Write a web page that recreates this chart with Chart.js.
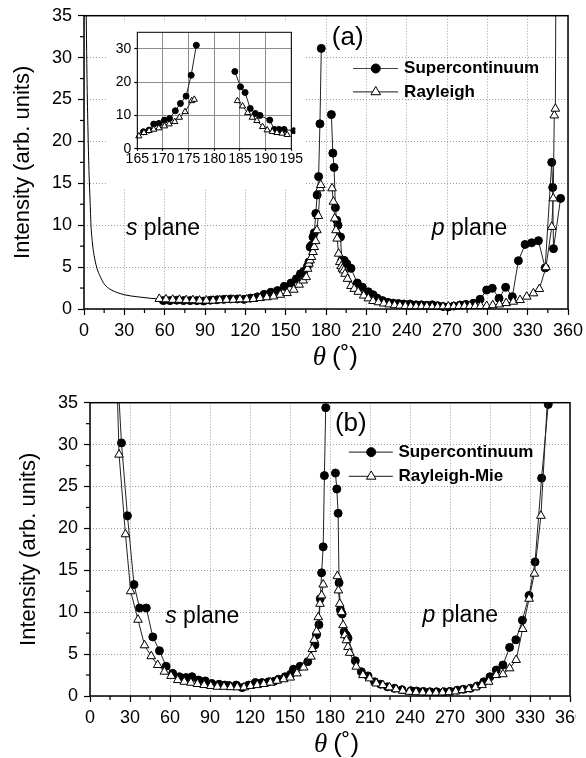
<!DOCTYPE html>
<html lang="en">
<head>
<meta charset="UTF-8">
<title>Scattered intensity vs angle</title>
<script src="https://cdn.jsdelivr.net/npm/chart.js@4.4.1/dist/chart.umd.min.js"></script>
<style>
  body { margin: 0; background: #fff; }
  #wrap { position: relative; width: 586px; height: 758px; }
  canvas { position: absolute; }
  #chartA { left: 0; top: 0; }
  #inset { left: 107px; top: 22px; }
  #chartB { left: 0; top: 380px; }
</style>
</head>
<body>
<div id="wrap">
  <canvas id="chartA" width="586" height="380"></canvas>
  <canvas id="inset" width="199" height="166"></canvas>
  <canvas id="chartB" width="576" height="378"></canvas>
</div>
<script>
// ---- panel (a): supercontinuum vs Rayleigh ----
const scAngleA = [59, 64, 69, 74, 79, 84, 89, 94, 99, 104, 109, 114, 119, 124, 129, 134, 139, 144, 149, 154,
  158, 161, 163.5, 166.2, 167.3, 168.2, 169.2, 170.3, 171.3, 172.4, 173.4, 174.5, 175.5, 176.5, 180,
  184, 185.1, 186, 187, 188, 188.9, 190.8, 191.7, 192.6, 193.6, 195.5, 198.6, 203.3, 207, 211.5, 215, 218,
  222, 226, 230, 234, 238, 242.5, 247, 251, 255, 259, 263, 267, 271, 275, 279.7, 284, 289.6, 294.6,
  299.5, 303.7, 308.7, 313.6, 318.6, 323.1, 328.1, 333, 338, 343, 347.9, 348.6, 349.2, 354.5];
const scValueA = [1.0, 1.0, 1.05, 1.0, 1.0, 1.0, 0.95, 1.05, 1.1, 1.15, 1.2, 1.2, 1.15, 1.3, 1.45, 1.75, 2.0, 2.2, 2.7, 3.1,
  3.6, 4.2, 4.5, 5.1, 5.6, 7.4, 7.6, 8.6, 9.1, 11.4, 13.6, 15.8, 22.1, 31.1, null,
  23.2, 18.6, 16.9, 12.1, 10.6, 10.0, 8.6, 5.8, 5.8, 5.8, 5.4, 4.85, 3.1, 2.6, 2.05, 1.7, 1.3,
  1.0, 0.8, 0.7, 0.65, 0.6, 0.6, 0.5, 0.5, 0.45, 0.5, 0.4, 0.3, 0.25, 0.35, 0.48, 0.55, 0.68, 1.16,
  2.27, 2.47, 1.27, 2.59, 1.47, 5.76, 7.7, 7.9, 8.15, 4.9, 17.5, 14.5, 7.2, 13.2];

const rayAngleA = [56, 61, 66, 71, 76, 81, 86, 91, 96, 101, 106, 111, 116, 121, 126, 131, 136, 141, 146, 151,
  156, 160, 163, 165.3, 166.3, 167.3, 168.2, 169.2, 170.3, 171.2, 172.3, 173.2, 174.3, 175.6, 176.1, 180,
  184.5, 185.5, 186.5, 187.4, 188.3, 189.4, 190.3, 191.3, 192.2, 193.2, 194.2, 196, 198.6, 201,
  204, 208, 211.5, 215, 219, 223, 227, 231, 235, 239, 243, 247, 251, 255, 259, 263, 267, 271, 275, 279,
  283, 287, 291, 295, 299.5, 304, 309, 314, 319.3, 324.3, 329.3, 334.3, 338.7, 343.6, 347.9, 349, 349.8, 350.6, 351.5];
const rayValueA = [1.2, 1.15, 1.1, 1.1, 1.05, 1.05, 1.0, 1.0, 1.0, 1.05, 1.1, 1.1, 1.15, 1.15, 1.2, 1.3, 1.4, 1.5, 1.7, 1.9,
  2.3, 2.9, 3.4, 3.8, 4.8, 5.4, 5.8, 6.2, 6.8, 7.4, 8.1, 9.4, 11.1, 14.4, 14.8, null,
  14.4, 12.8, 10.8, 9.4, 8.4, 6.6, 5.6, 5.1, 4.8, 4.6, 4.2, 3.6, 2.75, 2.4,
  2.05, 1.6, 1.27, 0.95, 0.8, 0.65, 0.55, 0.45, 0.4, 0.35, 0.3, 0.3, 0.3, 0.3, 0.25, 0.25, 0.25, 0.3, 0.3, 0.35,
  0.35, 0.35, 0.35, 0.35, 0.36, 0.45, 0.55, 0.7, 0.87, 1.07, 1.47, 1.87, 2.39, 4.98, 9.8, 13.2, 23.1, 23.9, 60];

// thin curve without markers at small angles
const curveAngleA = [1.3, 2.2, 3, 3.8, 4.5, 5.2, 6.2, 7.5, 9.4, 12, 15, 20, 25, 30, 40, 50, 57];
const curveValueA = [40, 28, 21, 16, 13, 10, 8, 6.4, 5, 3.9, 3.0, 2.3, 1.95, 1.7, 1.45, 1.27, 1.17];

// ---- panel (b): supercontinuum vs Rayleigh-Mie ----
const scAngleB = [19.5, 23.6, 28.1, 33, 37.2, 42.2, 47.1, 52.1, 57.1, 62, 67, 72, 76.5, 81.4, 86.4, 91.3, 96.8, 101,
  104.2, 109.7, 114.1, 119, 124.1, 129, 134, 138, 141.4, 146.4, 150.5, 152.6, 157.6, 163.3, 168.7, 169.9,
  171.7, 172.7, 173.7, 174.9, 175.8, 176.8, 180, 184.1, 185.1, 186.1, 186.8, 187.8, 189.1, 190.6, 192.3,
  193.5, 199, 203.5, 208.5, 213.4, 218, 223, 228.3, 234, 240.7, 245, 250, 255, 260, 265.5, 270, 275.4,
  280, 285.3, 290.3, 295.3, 300, 304.7, 309.7, 314.7, 319.4, 324.3, 329.3, 333.8, 338.7, 343.7, 346];
const scValueB = [42, 30.2, 21.5, 13.3, 10.5, 10.5, 7.05, 5.4, 3.55, 2.7, 2.3, 2.2, 2.3, 1.9, 1.8, 1.5, 1.4, 1.3,
  1.25, 1.3, 1.0, 1.3, 1.6, 1.6, 1.7, 1.75, 2.0, 2.3, 2.6, 3.2, 3.55, 4.1, 6.1, 7.3,
  8.5, 11.6, 14.7, 17.8, 26.3, 34.4, null, 26.6, 24.7, 21.8, 13.5, 10.3, 9.8, 7.65, 7.25,
  6.9, 4.2, 2.9, 2.4, 1.7, 1.4, 1.1, 0.92, 0.75, 0.63, 0.6, 0.55, 0.5, 0.5, 0.5, 0.55, 0.7,
  0.8, 0.92, 1.2, 1.7, 2.3, 3.1, 3.7, 5.8, 6.7, 9.05, 12.0, 16.0, 26.0, 34.8, 45];

const rayAngleB = [19.8, 21.8, 26.6, 30.5, 36, 40.9, 45.9, 50.8, 55.8, 60.8, 65.8, 70.7, 75.7, 80.6, 85.6, 90.6,
  95.5, 100.5, 105.5, 110.5, 115.5, 120.4, 125.4, 130.3, 135.3, 140.3, 145.3, 150.2, 155.2, 160.2,
  165.7, 166.7, 168.2, 169.9, 171.2, 172.5, 173.7, 174.9, 180, 185.5, 186.3, 187.3, 188.6, 189.8, 191.1,
  192.3, 193.5, 194.8, 199.7, 204.7, 209.7, 214.7, 219.6, 224.6, 229.5, 234.5, 239.5, 244.5, 249.5, 254.5,
  259.5, 264.4, 269.3, 274.3, 279.2, 284.1, 289.1, 294, 299, 304.7, 309.7, 314.7, 319.6, 324.5, 329.3,
  333.3, 338.2, 344];
const rayValueB = [40, 28.8, 19.3, 12.5, 9.1, 6.05, 4.75, 3.7, 2.9, 2.4, 1.9, 1.7, 1.58, 1.43, 1.31, 1.2,
  1.1, 1.1, 1.05, 1.03, 1.03, 1.2, 1.3, 1.43, 1.6, 1.82, 2.0, 2.2, 2.7, 3.4,
  4.7, 5.6, 6.7, 7.7, 9.4, 11.0, 12.0, 13.3, null, 14.3, 12.6, 11.0, 10.0, 8.45, 7.25,
  6.65, 5.85, 5.15, 3.5, 2.5, 2.1, 1.5, 1.3, 1.03, 0.8, 0.63, 0.5, 0.45, 0.42, 0.4,
  0.4, 0.42, 0.45, 0.55, 0.7, 0.83, 1.03, 1.3, 1.7, 2.5, 2.6, 3.3, 4.3, 8.0, 11.6,
  14.6, 21.5, 38];

// ---- ticks ----
const angleTicks = [0, 30, 60, 90, 120, 150, 180, 210, 240, 270, 300, 330, 360];
const angleMinor = [15, 45, 75, 105, 135, 165, 195, 225, 255, 285, 315, 345];
const intensityTicks = [0, 5, 10, 15, 20, 25, 30, 35];
const intensityMinor = [2.5, 7.5, 12.5, 17.5, 22.5, 27.5, 32.5];
const insetAngleTicks = [165, 170, 175, 180, 185, 190, 195];
const insetIntensityTicks = [0, 10, 20, 30];

const FONT = '"Liberation Sans", Arial, Helvetica, sans-serif';
Chart.defaults.font.family = FONT;
Chart.defaults.color = '#000';

const toPoints = (xs, ys) => xs.map((x, i) => ({ x: x, y: ys[i] }));

function drawMarker(ctx, kind, x, y, r) {
  ctx.beginPath();
  if (kind === 'circle') {
    ctx.arc(x, y, r, 0, Math.PI * 2);
    ctx.fillStyle = '#000';
  } else {
    ctx.moveTo(x, y - r);
    ctx.lineTo(x + 0.866 * r, y + 0.5 * r);
    ctx.lineTo(x - 0.866 * r, y + 0.5 * r);
    ctx.closePath();
    ctx.fillStyle = '#fff';
  }
  ctx.fill();
  ctx.lineWidth = 1;
  ctx.strokeStyle = '#000';
  ctx.stroke();
}

// frame, minor ticks, text labels and the legend
const decor = {
  id: 'decor',
  beforeDraw(chart, args, o) {
    if (!o.background) return;
    const c = chart.ctx;
    c.save();
    c.fillStyle = o.background;
    c.fillRect(0, 0, chart.width, chart.height);
    c.restore();
  },
  afterDraw(chart, args, o) {
    const { ctx, chartArea: a } = chart;
    const xs = chart.scales.x, ys = chart.scales.y;
    ctx.save();
    ctx.strokeStyle = '#000';
    ctx.lineWidth = 1.2;
    (o.minorX || []).forEach(v => {
      const px = xs.getPixelForValue(v);
      ctx.beginPath(); ctx.moveTo(px, a.bottom); ctx.lineTo(px, a.bottom + 4); ctx.stroke();
    });
    (o.minorY || []).forEach(v => {
      const py = ys.getPixelForValue(v);
      ctx.beginPath(); ctx.moveTo(a.left, py); ctx.lineTo(a.left - 4, py); ctx.stroke();
    });
    ctx.lineWidth = o.frame || 1.5;
    ctx.strokeRect(a.left, a.top, a.right - a.left, a.bottom - a.top);

    ctx.fillStyle = '#000';
    ctx.textBaseline = 'middle';
    ctx.textAlign = 'left';
    (o.texts || []).forEach(t => {
      let w = 0;
      t.parts.forEach(p => { ctx.font = p.font; w += ctx.measureText(p.s).width + (p.gap || 0); });
      let px = xs.getPixelForValue(t.x);
      if (t.center) px -= w / 2;
      const py = t.dy !== undefined ? a.bottom + t.dy : ys.getPixelForValue(t.y);
      t.parts.forEach(p => {
        ctx.font = p.font;
        ctx.fillText(p.s, px, py);
        px += ctx.measureText(p.s).width + (p.gap || 0);
      });
    });

    (o.legend || []).forEach(l => {
      const py = ys.getPixelForValue(l.y);
      ctx.strokeStyle = '#444';
      ctx.lineWidth = 1.2;
      ctx.beginPath();
      ctx.moveTo(xs.getPixelForValue(l.x1), py);
      ctx.lineTo(xs.getPixelForValue(l.x2), py);
      ctx.stroke();
      drawMarker(ctx, l.marker, xs.getPixelForValue(l.xm), py, l.marker === 'circle' ? 4.5 : 5.5);
      ctx.fillStyle = '#000';
      ctx.font = 'bold 17px ' + FONT;
      ctx.fillText(l.text, xs.getPixelForValue(l.xt), py);
    });
    ctx.restore();
  }
};

function axis(o) {
  return {
    type: 'linear',
    min: o.min,
    max: o.max,
    afterBuildTicks: s => { s.ticks = o.ticks.map(v => ({ value: v })); },
    afterFit: s => {
      if (o.width !== undefined) s.width = o.width;
      if (o.height !== undefined) s.height = o.height;
      s.paddingLeft = 0; s.paddingRight = 0; s.paddingTop = 0; s.paddingBottom = 0;
    },
    grid: {
      color: o.gridColor, lineWidth: 1,
      drawTicks: true, tickLength: o.tickLength, tickColor: '#000', tickWidth: 1.2, tickBorderDash: []
    },
    border: { display: false, dash: o.dash },
    ticks: { font: { size: o.fontSize }, color: '#000', padding: o.pad, autoSkip: false, maxRotation: 0 },
    title: o.title || { display: false }
  };
}

const scStyle = {
  borderColor: '#222', borderWidth: 1, pointStyle: 'circle',
  pointBackgroundColor: '#000', pointBorderColor: '#000', pointBorderWidth: 1, order: 1
};
const rayStyle = {
  borderColor: '#222', borderWidth: 1, pointStyle: 'triangle',
  pointBackgroundColor: '#fff', pointBorderColor: '#000', pointBorderWidth: 1, order: 0
};

function titleParts() {
  return [
    { s: 'θ', font: 'italic 27px "Liberation Serif", "DejaVu Serif", serif', gap: 6 },
    { s: '(˚)', font: '26px ' + FONT }
  ];
}
function planeParts(letter) {
  return [{ s: letter, font: 'italic 23px ' + FONT }, { s: ' plane', font: '23px ' + FONT }];
}

function mainChart(id, cfg) {
  return new Chart(document.getElementById(id), {
    type: 'line',
    data: { datasets: cfg.datasets },
    options: {
      responsive: false, animation: false, devicePixelRatio: 1,
      layout: { padding: cfg.padding },
      plugins: { legend: { display: false }, tooltip: { enabled: false }, decor: cfg.decor },
      scales: {
        x: axis({ min: 0, max: 360, ticks: angleTicks, height: cfg.xHeight, gridColor: '#9c9c9c', dash: [1, 2],
          tickLength: 6, pad: 5, fontSize: 18 }),
        y: axis({ min: 0, max: 35, ticks: intensityTicks, width: cfg.yWidth, gridColor: '#9c9c9c', dash: [1, 2],
          tickLength: 6, pad: 6, fontSize: 18,
          title: { display: true, text: 'Intensity (arb. units)', font: { size: 22 }, padding: { top: cfg.titlePad, bottom: 0 } } })
      }
    },
    plugins: [decor]
  });
}

const clipMain = { left: 6, top: 0, right: 6, bottom: 6 };

mainChart('chartA', {
  padding: { top: 15.7, right: 18, left: 0, bottom: 0 },
  xHeight: 71, yWidth: 84, titlePad: 10,
  datasets: [
    Object.assign({ data: toPoints(rayAngleA, rayValueA), pointRadius: 5, clip: clipMain }, rayStyle),
    Object.assign({ data: toPoints(scAngleA, scValueA), pointRadius: 4, clip: clipMain }, scStyle),
    { data: toPoints(curveAngleA, curveValueA), borderColor: '#000', borderWidth: 1, pointRadius: 0,
      cubicInterpolationMode: 'monotone', clip: clipMain, order: 2 }
  ],
  decor: {
    minorX: angleMinor, minorY: intensityMinor, frame: 1.5,
    texts: [
      { x: 184.3, y: 32.4, parts: [{ s: '(a)', font: '26px ' + FONT }] },
      { x: 31.2, y: 9.55, parts: planeParts('s') },
      { x: 258.7, y: 9.6, parts: planeParts('p') },
      { x: 187, dy: 49, center: true, parts: titleParts() }
    ],
    legend: [
      { x1: 200.1, x2: 233.6, xm: 217, xt: 238.1, y: 28.7, marker: 'circle', text: 'Supercontinuum' },
      { x1: 200.1, x2: 233.6, xm: 217, xt: 238.1, y: 25.9, marker: 'triangle', text: 'Rayleigh' }
    ]
  }
});

mainChart('chartB', {
  padding: { top: 22.7, right: 2.5, left: 0, bottom: 0 },
  xHeight: 62, yWidth: 90, titlePad: 16,
  datasets: [
    Object.assign({ data: toPoints(rayAngleB, rayValueB), pointRadius: 5, clip: clipMain }, rayStyle),
    Object.assign({ data: toPoints(scAngleB, scValueB), pointRadius: 4, clip: clipMain }, scStyle)
  ],
  decor: {
    minorX: angleMinor, minorY: intensityMinor, frame: 1.5,
    texts: [
      { x: 183.7, y: 32.5, parts: [{ s: '(b)', font: '26px ' + FONT }] },
      { x: 56.4, y: 9.44, parts: planeParts('s') },
      { x: 249.4, y: 9.56, parts: planeParts('p') },
      { x: 184.9, dy: 49, center: true, parts: titleParts() }
    ],
    legend: [
      { x1: 194.1, x2: 227.1, xm: 210.9, xt: 231.3, y: 29.1, marker: 'circle', text: 'Supercontinuum' },
      { x1: 194.1, x2: 227.1, xm: 210.9, xt: 231.3, y: 26.2, marker: 'triangle', text: 'Rayleigh-Mie' }
    ]
  }
});

// inset of panel (a): zoom on the forward peak
const inRange = p => p.x >= 164.9 && p.x <= 195.5;
const clipInset = { left: 4, top: 0, right: 4, bottom: 4 };
new Chart(document.getElementById('inset'), {
  type: 'line',
  data: {
    datasets: [
      Object.assign({ data: toPoints(rayAngleA, rayValueA).filter(inRange), pointRadius: 3.6, clip: clipInset }, rayStyle),
      Object.assign({ data: toPoints(scAngleA, scValueA).filter(inRange), pointRadius: 3, clip: clipInset }, scStyle)
    ]
  },
  options: {
    responsive: false, animation: false, devicePixelRatio: 1,
    layout: { padding: { top: 10.3, right: 14.7, left: 0, bottom: 0 } },
    plugins: { legend: { display: false }, tooltip: { enabled: false }, decor: { background: '#fff', frame: 1 } },
    scales: {
      x: axis({ min: 165, max: 195, ticks: insetAngleTicks, height: 39.3, gridColor: '#8c8c8c', dash: [],
        tickLength: 2, pad: 0, fontSize: 14 }),
      y: axis({ min: 0, max: 35, ticks: insetIntensityTicks, width: 30.3, gridColor: '#8c8c8c', dash: [],
        tickLength: 3, pad: 3, fontSize: 14 })
    }
  },
  plugins: [decor]
});
</script>
</body>
</html>
